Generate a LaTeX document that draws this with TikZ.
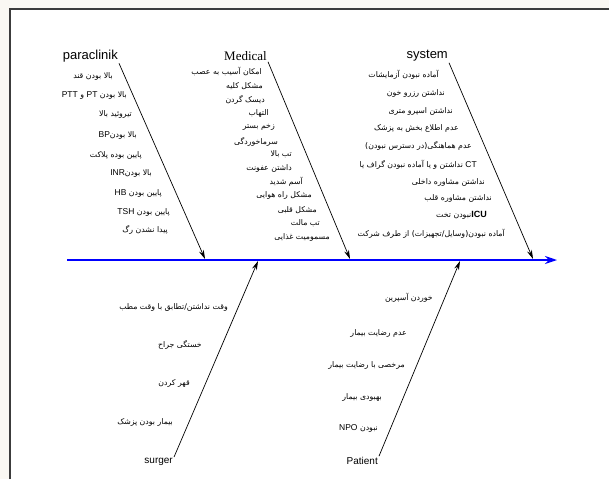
\documentclass[tikz,border=0pt]{standalone}
\usepackage{fontspec}
\setmainfont{Liberation Sans}
\newfontfamily\persianfont[Script=Arabic]{DejaVu Sans}
\newfontfamily\timesfont{Liberation Serif}
\TeXXeTstate=1
\usetikzlibrary{arrows.meta}
\newcommand{\fa}[1]{\beginR #1\endR}
\newcommand{\lat}[1]{{\fontsize{8.5}{9}\selectfont\rmfamily #1}}
\definecolor{pagebg}{RGB}{250,248,243}
\definecolor{framegray}{RGB}{60,60,60}

\begin{document}
\begin{tikzpicture}[x=1pt, y=-1pt,
  branch/.style={black, line width=0.7pt, -{Stealth[length=9pt,width=5pt]}},
  spine/.style={blue, line width=1.8pt, -{Stealth[length=12pt,width=8pt]}},
  cause/.style={anchor=east, inner sep=0pt, font=\fontsize{7.8}{8}\selectfont\persianfont},
  headlabel/.style={inner sep=1pt, font=\fontsize{13}{14}\selectfont},
  taillabel/.style={inner sep=1pt, font=\fontsize{10}{11}\selectfont}]
\useasboundingbox (0,0) rectangle (609,479);
\fill[pagebg] (0,0) rectangle (609,479);
\fill[white] (10,9) rectangle (609,479);
\draw[framegray, line width=1.4pt] (10,479) -- (10,9) -- (609,9);

\coordinate (spinestart) at (67,260);
\coordinate (spineend) at (557,260);
\draw[spine] (spinestart) -- (spineend);

\node[headlabel, anchor=east] (paraclinik) at (119,56) {paraclinik};
\node[headlabel, anchor=east, font=\fontsize{13}{14}\selectfont\timesfont] (medical) at (268,56) {Medical};
\node[headlabel, anchor=east] (system) at (449,56) {system};
\node[taillabel, anchor=east] (surger) at (174,462) {surger};
\node[taillabel, anchor=east] (patient) at (379,461) {Patient};

\coordinate (paraclinik-tip) at (205,259);
\coordinate (medical-tip) at (350,259);
\coordinate (system-tip) at (533,259);
\coordinate (surger-tip) at (258,261);
\coordinate (patient-tip) at (460,261);

\draw[branch] (paraclinik.south east) -- (paraclinik-tip);
\draw[branch] (medical.south east) -- (medical-tip);
\draw[branch] (system.south east) -- (system-tip);
\draw[branch] (surger.north east) -- (surger-tip);
\draw[branch] (patient.north east) -- (patient-tip);

\node[cause] (pc1) at (113,76) {\fa{بالا بودن قند}};
\node[cause] (pc2) at (127,95) {\fa{بالا بودن \lat{PT} و \lat{PTT}}};
\node[cause] (pc3) at (132,114) {\fa{تیروئید بالا}};
\node[cause] (pc4) at (137,135) {\fa{بالا بودن{}\lat{BP}}};
\node[cause] (pc5) at (142,155) {\fa{پایین بوده پلاکت}};
\node[cause] (pc6) at (152,173) {\fa{بالا بودن{}\lat{INR}}};
\node[cause] (pc7) at (162,193) {\fa{پایین بودن \lat{HB}}};
\node[cause] (pc8) at (170,212) {\fa{پایین بودن \lat{TSH}}};
\node[cause] (pc9) at (168,230) {\fa{پیدا نشدن رگ}};

\node[cause] (md1) at (262,72) {\fa{امکان آسیب به عصب}};
\node[cause] (md2) at (263,86) {\fa{مشکل کلیه}};
\node[cause] (md3) at (265,100) {\fa{دیسک گردن}};
\node[cause] (md4) at (269,113) {\fa{التهاب}};
\node[cause] (md5) at (275,127) {\fa{زخم بستر}};
\node[cause] (md6) at (278,142) {\fa{سرماخوردگی}};
\node[cause] (md7) at (292,154) {\fa{تب بالا}};
\node[cause] (md8) at (292,168) {\fa{داشتن عفونت}};
\node[cause] (md9) at (303,182) {\fa{آسم شدید}};
\node[cause] (md10) at (312,195) {\fa{مشکل راه هوایی}};
\node[cause] (md11) at (317,210) {\fa{مشکل قلبی}};
\node[cause] (md12) at (320,223) {\fa{تب مالت}};
\node[cause] (md13) at (330,237) {\fa{مسمومیت غذایی}};

\node[cause] (sy1) at (439,75) {\fa{آماده نبودن آزمایشات}};
\node[cause] (sy2) at (445,93) {\fa{نداشتن رزرو خون}};
\node[cause] (sy3) at (453,111) {\fa{نداشتن اسپرو متری}};
\node[cause] (sy4) at (459,128) {\fa{عدم اطلاع بخش به پزشک}};
\node[cause] (sy5) at (472,146) {\fa{عدم هماهنگی(در دسترس نبودن)}};
\node[cause] (sy6) at (477,165) {\fa{نداشتن و یا آماده نبودن گراف یا} \lat{CT}};
\node[cause] (sy7) at (485,182) {\fa{نداشتن مشاوره داخلی}};
\node[cause] (sy8) at (492,198) {\fa{نداشتن مشاوره قلب}};
\node[cause] (sy9) at (487,215) {\fa{نبودن تخت}{\fontsize{9}{9}\selectfont\rmfamily\bfseries ICU}};
\node[cause] (sy10) at (505,234) {\fa{آماده نبودن(وسایل/تجهیزات) از طرف شرکت}};

\node[cause] (sg1) at (228,307) {\fa{وقت نداشتن/تطابق با وقت مطب}};
\node[cause] (sg2) at (202,345) {\fa{خستگی جراح}};
\node[cause] (sg3) at (190,383) {\fa{قهر کردن}};
\node[cause] (sg4) at (173,422) {\fa{بیمار بودن پزشک}};

\node[cause] (pt1) at (433,298) {\fa{خوردن آسپرین}};
\node[cause] (pt2) at (407,333) {\fa{عدم رضایت بیمار}};
\node[cause] (pt3) at (405,365) {\fa{مرخصی با رضایت بیمار}};
\node[cause] (pt4) at (382,397) {\fa{بهبودی بیمار}};
\node[cause] (pt5) at (378,428) {\fa{نبودن \lat{NPO}}};
\end{tikzpicture}
\end{document}
